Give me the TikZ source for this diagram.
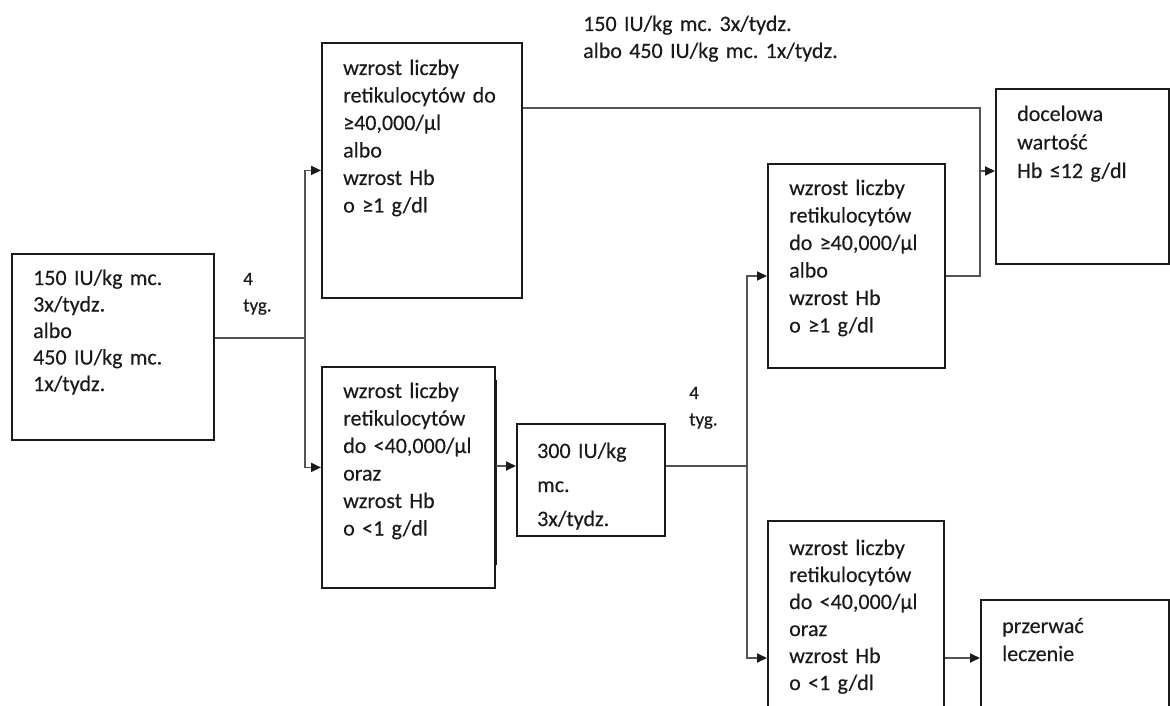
\documentclass[tikz,border=0pt]{standalone}
\usepackage{fontspec}
\setmainfont{Carlito}[FakeStretch=1.0,FakeBold=0.3]
\usetikzlibrary{arrows.meta,positioning,calc}
\frenchspacing

\begin{document}
\begin{tikzpicture}[x=1pt,y=-1pt,
    box/.style={draw=ink, line width=1.8pt, inner sep=0pt, anchor=north west},
    txt/.style={anchor=base west, inner sep=0pt, text width=320pt, align=left,
      text=ink, font=\fontsize{22}{27.5}\selectfont},
    tag/.style={anchor=base west, inner sep=0pt, text width=60pt, align=left,
      text=ink, font=\fontsize{19}{26.5}\selectfont},
    link/.style={draw=ink!75, line width=1.8pt},
    arr/.style={link, -{Triangle[length=10pt,width=9pt,color=ink]}}]
  \definecolor{ink}{HTML}{1A1A1A}
  \useasboundingbox (0,0) rectangle (1170,706);
  \clip (0,0) rectangle (1170,706);
  % boxes
  \node[box, minimum width=202, minimum height=186] (A) at (11,253) {};
  \node[box, minimum width=200, minimum height=255] (B) at (321,42) {};
  \node[box, minimum width=173, minimum height=221] (C) at (321,366) {};
  \node[box, minimum width=148, minimum height=112] (D) at (516,423) {};
  \node[box, minimum width=177, minimum height=204] (E) at (767,163) {};
  \node[box, minimum width=173, minimum height=175] (F) at (995,88) {};
  \node[box, minimum width=176, minimum height=220] (G) at (767,520) {};
  \node[box, minimum width=188, minimum height=140] (H) at (980,599) {};
  \draw[ink, line width=1.5pt] (496,380) -- (496,565);
  % texts
  \node[txt, font=\fontsize{22}{26.5}\selectfont] (At) at (33,285)
    {150 IU/kg mc.\\3x/tydz.\\albo\\450 IU/kg mc.\\1x/tydz.};
  \node[txt] (Bt) at (343,75)
    {wzrost liczby\\retikulocytów do\\≥40,000/μl\\albo\\wzrost Hb\\o ≥1 g/dl};
  \node[txt] (Ct) at (343,398)
    {wzrost liczby\\retikulocytów\\do <40,000/μl\\oraz\\wzrost Hb\\o <1 g/dl};
  \node[txt, font=\fontsize{22}{34}\selectfont] (Dt) at (537,458)
    {300 IU/kg\\mc.\\3x/tydz.};
  \node[txt] (Et) at (789,195)
    {wzrost liczby\\retikulocytów\\do ≥40,000/μl\\albo\\wzrost Hb\\o ≥1 g/dl};
  \node[txt, font=\fontsize{22}{28.5}\selectfont] (Ft) at (1017,121)
    {docelowa\\wartość\\Hb ≤12 g/dl};
  \node[txt, font=\fontsize{22}{27}\selectfont] (Gt) at (789,555)
    {wzrost liczby\\retikulocytów\\do <40,000/μl\\oraz\\wzrost Hb\\o <1 g/dl};
  \node[txt, font=\fontsize{22}{28}\selectfont] (Ht) at (1002,633)
    {przerwać\\leczenie};
  \node[txt, font=\fontsize{22}{27}\selectfont] (top) at (583,31)
    {150 IU/kg mc. 3x/tydz.\\albo 450 IU/kg mc. 1x/tydz.};
  \node[tag] (w1) at (243,285) {4\\tyg.};
  \node[tag] (w2) at (689,399) {4\\tyg.};
  % connectors
  \coordinate (j1) at (305,338);
  \coordinate (j2) at (747,466);
  \coordinate (j3) at (980,171);
  \coordinate (k1) at (980,108);
  \coordinate (k2) at (980,276);
  \coordinate (k3) at (747,658);
  \draw[link] (A.east |- j1) -- (j1);
  \draw[arr] (j1) |- (B.west);
  \draw[arr] (j1) |- ([yshift=10pt]C.west);
  \draw[arr] (C.east |- j2) -- (D.west |- j2);
  \draw[link] (D.east |- j2) -- (j2);
  \draw[arr] (j2) |- (E.west |- k2);
  \draw[arr] (j2) -- (k3) -- (G.west |- k3);
  \draw[arr] (G.east |- k3) -- (H.west |- k3);
  \draw[link] (B.east |- k1) -- (k1) -- (k2) -- (E.east |- k2);
  \draw[arr] (j3) -- (F.west |- j3);
\end{tikzpicture}
\end{document}
